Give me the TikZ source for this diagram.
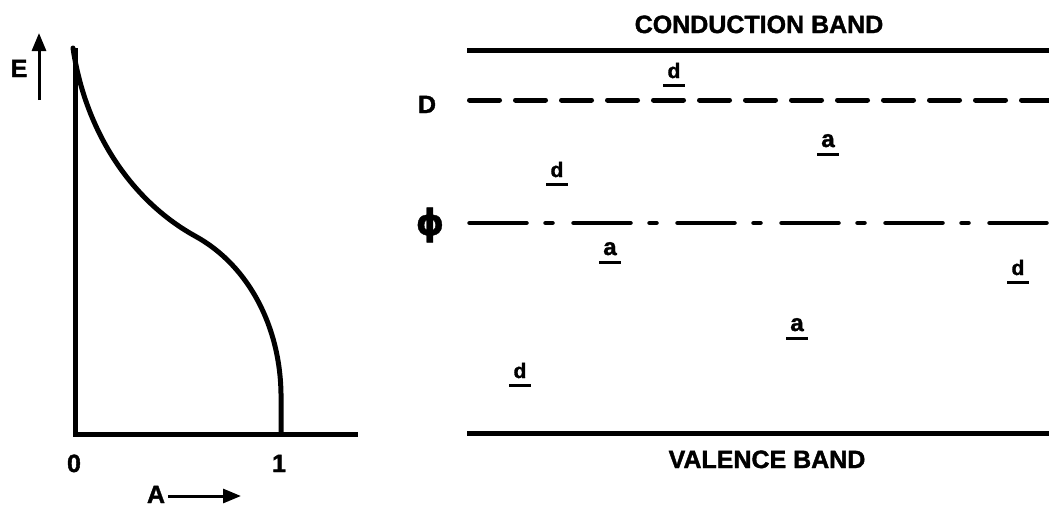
\documentclass[tikz,border=0pt]{standalone}
\usepackage{fontspec}
\setmainfont{Liberation Sans}[BoldFeatures={FakeBold=1.5}]
\newfontfamily\symfont{DejaVu Sans}[BoldFeatures={FakeBold=1}]
\usetikzlibrary{arrows.meta}
\begin{document}
\begin{tikzpicture}[x=1pt,y=-1pt,
  txt/.style={font=\fontsize{25}{30}\selectfont\bfseries, inner sep=0pt, anchor=base},
  lbld/.style={font=\fontsize{21}{24}\selectfont\bfseries, inner sep=0pt, anchor=base},
  lbla/.style={font=\fontsize{24}{28}\selectfont\bfseries, inner sep=0pt, anchor=base},
  band/.style={line width=5pt},
  axisline/.style={line width=5pt},
  curveline/.style={line width=5pt, line cap=round},
  ulline/.style={line width=3pt},
  dline/.style={line width=5pt, line cap=round, dash pattern=on 30pt off 16pt},
  philine/.style={line width=4.5pt, line cap=round, dash pattern=on 57pt off 19pt on 7pt off 21pt},
  arr/.style={line width=3pt, -{Triangle[length=18pt,width=14pt]}}
]
\useasboundingbox (0,0) rectangle (1049,506);

% ---------- left plot ----------
\coordinate (Ytop) at (75,48);
\coordinate (O) at (75,434);
\coordinate (Xend) at (358,434);
\draw[axisline] (Ytop) -- (O) -- (Xend);
\coordinate (c0) at (73,48);
\coordinate (c1) at (195,236);
\coordinate (c2) at (281,400);
\coordinate (c3) at (281,434);
\draw[curveline] (c0) .. controls (85,130) and (130,200) .. (c1)
                      .. controls (250,266) and (282,330) .. (c2) -- (c3);

\node[txt] (E) at (19,77) {E};
\coordinate (Ea1) at (39,100);
\coordinate (Ea2) at (39,33);
\draw[arr] (Ea1) -- (Ea2);

\node[txt] (zero) at (74,472) {0};
\node[txt] (one) at (279,472) {1};
\node[txt] (A) at (156,503) {A};
\coordinate (Aa1) at (168,496);
\coordinate (Aa2) at (241,496);
\draw[arr] (Aa1) -- (Aa2);

% ---------- band diagram ----------
\node[txt] (cb) at (759,33) {CONDUCTION BAND};
\node[txt] (vb) at (767,468) {VALENCE BAND};
\node[txt] (Dl) at (427,113) {D};
\node[font=\symfont\bfseries\fontsize{36}{40}\selectfont, inner sep=0pt] (phi) at (430,225) {ϕ};

\coordinate (cbL) at (467,50);  \coordinate (cbR) at (1049,50);
\coordinate (dL) at (469.5,100); \coordinate (dR) at (1052,100);
\coordinate (pL) at (469.5,223); \coordinate (pR) at (1052,223);
\coordinate (vbL) at (467,433); \coordinate (vbR) at (1049,433);
\draw[band] (cbL) -- (cbR);
\draw[dline] (dL) -- (dR);
\draw[philine] (pL) -- (pR);
\draw[band] (vbL) -- (vbR);

\newcommand{\ulabel}[1]{\draw[ulline] ([shift={(-11pt,-7pt)}]#1.base) -- ([shift={(11pt,-7pt)}]#1.base);}
\node[lbld] (d1) at (674,78) {d};  \ulabel{d1}
\node[lbla] (a1) at (828,147) {a}; \ulabel{a1}
\node[lbld] (d2) at (557,177) {d}; \ulabel{d2}
\node[lbla] (a2) at (610,255) {a}; \ulabel{a2}
\node[lbld] (d3) at (1018,275) {d}; \ulabel{d3}
\node[lbla] (a3) at (797,331) {a}; \ulabel{a3}
\node[lbld] (d4) at (520,378) {d}; \ulabel{d4}
\end{tikzpicture}
\end{document}
